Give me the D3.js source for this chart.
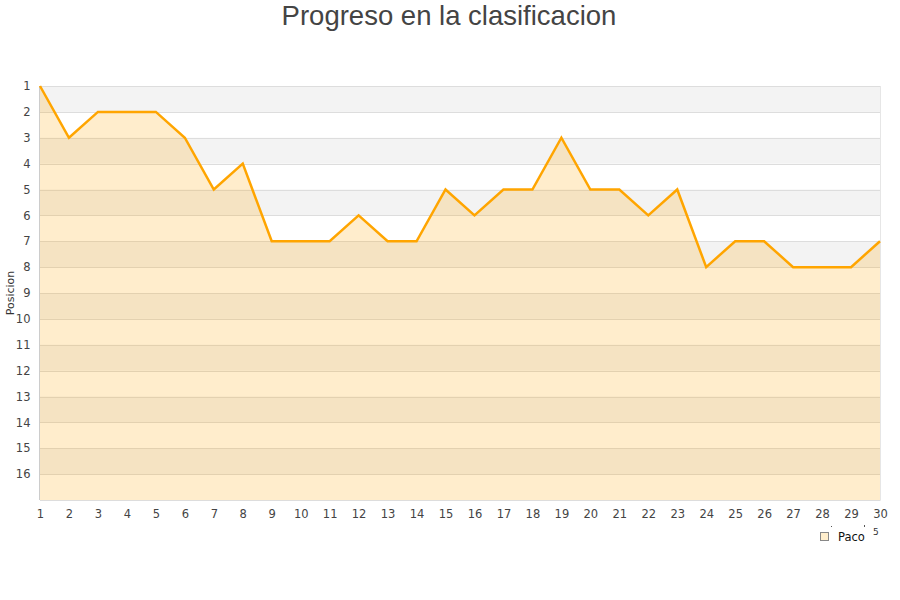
<!DOCTYPE html>
<html>
<head>
<meta charset="utf-8">
<script src="https://cdn.jsdelivr.net/npm/d3@7"></script>
<style>
  body { margin: 0; background: #fff; }
  text { font-family: "DejaVu Sans", sans-serif; }
</style>
</head>
<body>
<div id="main"></div>
<script>
// jornadas y posicion de Paco
let jornadas = d3.range(1, 31);
let posiciones = [1, 3, 2, 2, 2, 3, 5, 4, 7, 7, 7, 6, 7, 7, 5, 6, 5, 5, 3, 5, 5, 6, 5, 8, 7, 7, 8, 8, 8, 7];
let yTicks = d3.range(1, 17);
let serie = 'Paco';
let titulo = 'Progreso en la clasificacion';

let [width, height] = [900, 600];
let margin = {top: 86, right: 20, bottom: 100, left: 40};

let svg = d3.select('#main')
  .append('svg')
  .attr('width', width)
  .attr('height', height);

let sx = d3.scaleLinear().domain([1, 30]).range([margin.left, width - margin.right]);
let sy = d3.scaleLinear().domain([1, 17]).range([margin.top, height - margin.bottom]);

// bandas alternas
svg.selectAll('.band')
  .data(yTicks.filter(d => d % 2 == 1))
  .join('rect')
  .attr('class', 'band')
  .attr('x', sx(1))
  .attr('y', d => sy(d))
  .attr('width', sx(30) - sx(1))
  .attr('height', d => sy(d + 1) - sy(d))
  .attr('fill', '#f3f3f3');

// lineas de rejilla
svg.selectAll('.grid')
  .data(d3.range(1, 18))
  .join('line')
  .attr('class', 'grid')
  .attr('x1', sx(1))
  .attr('x2', sx(30))
  .attr('y1', d => Math.round(sy(d)) + 0.5)
  .attr('y2', d => Math.round(sy(d)) + 0.5)
  .attr('stroke', '#dddddd')
  .attr('stroke-width', 1);

// area
let area = d3.area()
  .x((d, i) => sx(jornadas[i]))
  .y0(sy(17))
  .y1(d => sy(d));
svg.append('path')
  .datum(posiciones)
  .attr('d', area)
  .attr('fill', 'orange')
  .attr('fill-opacity', 0.2);

// borde derecho
svg.append('line')
  .attr('x1', sx(30) + 0.5).attr('x2', sx(30) + 0.5)
  .attr('y1', sy(1)).attr('y2', sy(17))
  .attr('stroke', '#e6e6e6');

// eje y
let yAxis = svg.append('g')
  .attr('transform', `translate(${margin.left - 0.5},0)`)
  .call(d3.axisLeft(sy).tickValues(yTicks).tickSize(0).tickPadding(9));
yAxis.select('.domain').attr('stroke', '#cccccc').attr('d', `M0,${sy(1)}V${sy(17)}`);
yAxis.selectAll('text').attr('fill', '#444').style('font-size', '11.5px')
  .style('font-family', '"DejaVu Sans", sans-serif');

// eje x
let xAxis = svg.append('g')
  .attr('transform', `translate(0,${sy(17)})`)
  .call(d3.axisBottom(sx).tickValues(jornadas).tickFormat(d3.format('d')).tickSize(0).tickPadding(10));
xAxis.select('.domain').attr('stroke', '#dddddd');
xAxis.selectAll('text').attr('fill', '#444').style('font-size', '11.5px')
  .style('font-family', '"DejaVu Sans", sans-serif');

// linea
let line = d3.line()
  .x((d, i) => sx(jornadas[i]))
  .y(d => sy(d));
svg.append('path')
  .datum(posiciones)
  .attr('d', line)
  .attr('fill', 'none')
  .attr('stroke', 'orange')
  .attr('stroke-width', 2.5)
  .attr('stroke-linejoin', 'miter');

// titulo
svg.append('text')
  .attr('x', width / 2 - 1)
  .attr('y', 25)
  .attr('text-anchor', 'middle')
  .attr('fill', '#444')
  .style('font-family', '"Liberation Sans", Arial, sans-serif')
  .style('font-size', '27.5px')
  .text(titulo);

// titulo eje y
svg.append('text')
  .attr('transform', `translate(14,${(sy(1) + sy(17)) / 2}) rotate(-90)`)
  .attr('text-anchor', 'middle')
  .attr('fill', '#333')
  .style('font-size', '11px')
  .text('Posicion');

// leyenda
let legend = svg.append('g').attr('transform', 'translate(820,532)');
legend.append('rect')
  .attr('x', 0.5).attr('y', 0.5)
  .attr('width', 8).attr('height', 8)
  .attr('fill', '#ffeecc')
  .attr('stroke', '#888');
legend.append('text')
  .attr('x', 18).attr('y', 8.5)
  .attr('fill', '#111')
  .style('font-size', '11.5px')
  .text(serie);
svg.append('text')
  .attr('x', 873).attr('y', 535)
  .attr('fill', '#333')
  .style('font-size', '9px')
  .text('5');
svg.append('rect').attr('x', 831).attr('y', 526).attr('width', 1).attr('height', 1).attr('fill', '#555');
svg.append('rect').attr('x', 864).attr('y', 525).attr('width', 1).attr('height', 2).attr('fill', '#555');
</script>
</body>
</html>
